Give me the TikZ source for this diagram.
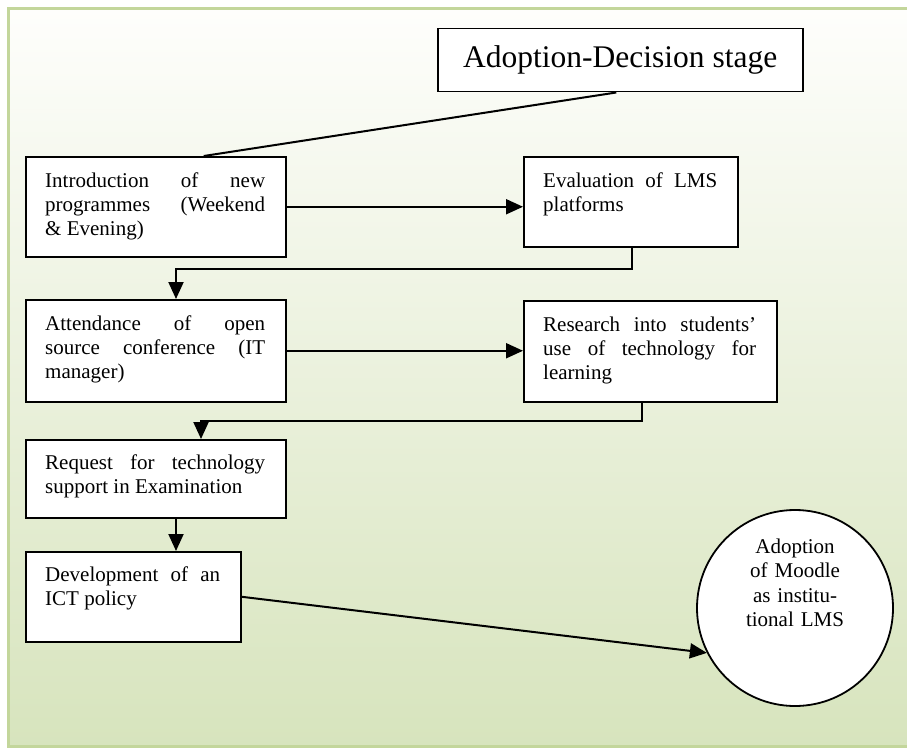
\documentclass[tikz,border=0pt]{standalone}
\usepackage{fontspec}
\setmainfont{Liberation Serif}
\usetikzlibrary{arrows.meta}
\definecolor{frameline}{RGB}{195,214,155}
\definecolor{bgtop}{RGB}{254,254,252}
\definecolor{bgbot}{RGB}{215,228,189}
\hbadness=10000
\begin{document}
\begin{tikzpicture}[x=1pt,y=-1pt,
  box/.style={draw=black, line width=1.5pt, fill=white, rectangle, inner sep=0pt, anchor=north west},
  txt/.style={anchor=base west, inner sep=0pt, align=justify, font=\fontsize{21}{24}\selectfont},
  conn/.style={line width=2pt},
  arr/.style={conn, -{Triangle[length=17pt,width=15pt]}}]
\useasboundingbox (0,0) rectangle (907,749);
\shade[top color=bgtop, bottom color=bgbot, draw=frameline, line width=3pt] (8,9) rectangle (918,746);

% title
\node[box, minimum width=365pt, minimum height=63pt, font=\fontsize{31.5}{36}\selectfont] (title) at (437,28) {Adoption-Decision stage};

% boxes
\node[box, minimum width=260pt, minimum height=100pt] (b1) at (25,156) {};
\node[box, minimum width=214pt, minimum height=90pt] (b2) at (523,156) {};
\node[box, minimum width=260pt, minimum height=102pt] (b3) at (25,299) {};
\node[box, minimum width=253pt, minimum height=101pt] (b4) at (523,300) {};
\node[box, minimum width=260pt, minimum height=78pt] (b5) at (25,439) {};
\node[box, minimum width=215pt, minimum height=90pt] (b6) at (25,551) {};

% texts
\node[txt, text width=220pt] (t1) at (45,187) {Introduction of new\linebreak programmes (Weekend\linebreak \& Evening)};
\node[txt, text width=174pt] (t2) at (543,187) {Evaluation of LMS\linebreak platforms};
\node[txt, text width=220pt] (t3) at (45,330) {Attendance of open\linebreak source conference (IT\linebreak manager)};
\node[txt, text width=213pt] (t4) at (543,331) {Research into students’\linebreak use of technology for\linebreak learning};
\node[txt, text width=220pt] (t5) at (45,469) {Request for technology\linebreak support in Examination};
\node[txt, text width=175pt] (t6) at (45,581) {Development of an\linebreak ICT policy};

% circle
\node[circle, draw=black, line width=1.8pt, fill=white, minimum size=196pt, inner sep=0pt] (circ) at (795,608) {};
\node[anchor=base, inner sep=0pt, align=center, text width=130pt, font=\fontsize{21}{24.5}\selectfont] (ct) at (795,553) {Adoption\\of Moodle\\as institu-\\tional LMS};

% connectors
\draw[conn] ([xshift=-4pt]title.south) -- ([xshift=48pt]b1.north);
\draw[arr] (b1.east) -- (b1.east -| b2.west);
\draw[arr] ([xshift=109pt]b2.south west) -- ++(0,21) -| ([xshift=151pt]b3.north west);
\draw[arr] (b3.east) -- (b3.east -| b4.west);
\draw[arr] ([xshift=119pt]b4.south west) -- ++(0,18) -| ([xshift=176pt]b5.north west);
\draw[arr] ([xshift=151pt]b5.south west) -- ([xshift=151pt]b6.north west);
\draw[arr] (b6.east) -- (circ.207);
\end{tikzpicture}
\end{document}
